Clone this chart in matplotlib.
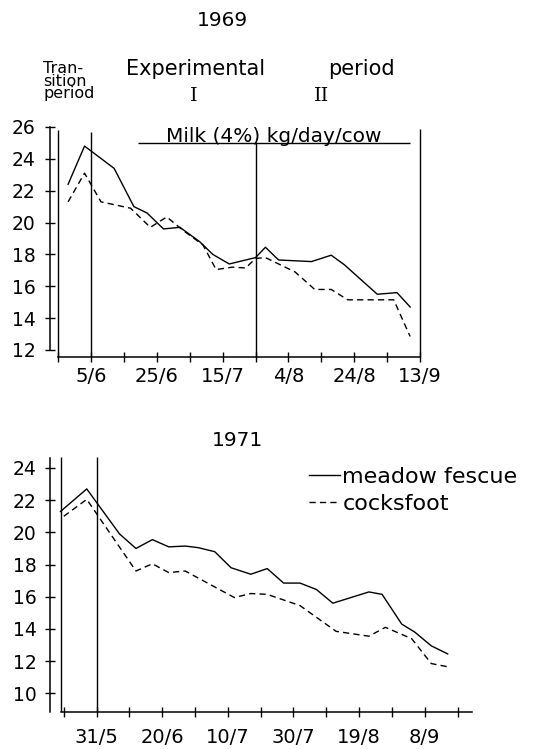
import matplotlib
matplotlib.use("Agg")
import matplotlib.pyplot as plt
import pandas as pd

# milk yield (4% fat corrected), kg/day/cow
dates69_fescue = ["29/5", "3/6", "12/6", "18/6", "22/6", "27/6", "2/7", "8/7", "12/7", "17/7",
                  "25/7", "28/7", "1/8", "11/8", "17/8", "21/8", "31/8", "6/9", "10/9"]
milk69_fescue = [22.4, 24.8, 23.4, 21.0, 20.6, 19.6, 19.7, 18.8, 18.0, 17.4,
                 17.8, 18.45, 17.65, 17.55, 17.95, 17.35, 15.5, 15.6, 14.7]
dates69_cocksfoot = ["29/5", "3/6", "8/6", "17/6", "23/6", "28/6", "3/7", "9/7", "13/7", "18/7",
                     "22/7", "25/7", "28/7", "6/8", "12/8", "17/8", "22/8", "5/9", "10/9"]
milk69_cocksfoot = [21.3, 23.1, 21.3, 20.9, 19.7, 20.35, 19.5, 18.6, 17.05, 17.2,
                    17.15, 17.75, 17.8, 16.9, 15.8, 15.8, 15.15, 15.15, 12.85]

dates71_fescue = ["20/5", "28/5", "7/6", "12/6", "17/6", "22/6", "27/6", "1/7", "6/7", "11/7", "17/7",
                  "22/7", "27/7", "1/8", "6/8", "11/8", "22/8", "26/8", "1/9", "5/9", "10/9", "15/9"]
milk71_fescue = [21.3, 22.7, 19.9, 19.0, 19.55, 19.1, 19.15, 19.05, 18.8, 17.8, 17.4,
                 17.75, 16.85, 16.85, 16.45, 15.6, 16.3, 16.15, 14.3, 13.8, 12.95, 12.45]
dates71_cocksfoot = ["21/5", "28/5", "12/6", "17/6", "22/6", "27/6", "12/7", "17/7", "22/7",
                     "1/8", "12/8", "22/8", "27/8", "4/9", "10/9", "15/9"]
milk71_cocksfoot = [21.0, 22.05, 17.6, 18.05, 17.5, 17.6, 15.95, 16.2, 16.15,
                    15.45, 13.85, 13.55, 14.1, 13.4, 11.85, 11.65]

# period boundaries
periods69 = ["26/5", "5/6", "25/7", "13/9"]
periods69_top = [25.8, 25.7, 25.0, 25.9]
periods71 = ["20/5", "31/5"]
periods71_top = [24.7, 24.7]

ticks69 = ["5/6", "25/6", "15/7", "4/8", "24/8", "13/9"]
ticks71 = ["31/5", "20/6", "10/7", "30/7", "19/8", "8/9"]


def doy(d, year):
    return pd.to_datetime(f"{d}/{year}", format="%d/%m/%Y").dayofyear


def days(lst, year):
    return [doy(d, year) for d in lst]


W, H = 554, 749
plt.rcParams['font.family'] = ['DejaVu Sans']
fig = plt.figure(figsize=(W / 100, H / 100), dpi=100)

solid = dict(color="black", lw=1.0)
dashed = dict(color="black", lw=1.0, dashes=(4.5, 3))


def style(ax, year, ticks, yticks, ylim, xbounds, ybounds, xpad, ypad):
    ax.spines["top"].set_visible(False)
    ax.spines["right"].set_visible(False)
    for s in ("left", "bottom"):
        ax.spines[s].set_linewidth(1.1)
    ax.spines["bottom"].set_bounds(*xbounds)
    ax.spines["left"].set_bounds(*ybounds)
    major = days(ticks, year)
    ax.set_xticks(major)
    ax.set_xticklabels(ticks, fontsize=14)
    minor = [m + 10 for m in major] + [major[0] - 10]
    ax.set_xticks([m for m in minor if xbounds[0] - 1 <= m <= xbounds[1] + 1], minor=True)
    ax.set_yticks(yticks)
    ax.set_yticklabels([str(v) for v in yticks], fontsize=13.5)
    ax.set_ylim(*ylim)
    ax.tick_params(axis="both", which="both", direction="inout", length=7, width=1)
    ax.tick_params(axis="x", pad=xpad)
    ax.tick_params(axis="y", pad=ypad)


# ---- 1969 ----
ax1 = fig.add_axes([50 / W, 1 - 357 / H, 373.3 / W, 238 / H])
x0 = doy("5/6", 1969)
ax1.set_xlim(x0 - 12.5, x0 + 101)
ax1.plot(days(dates69_fescue, 1969), milk69_fescue, **solid)
ax1.plot(days(dates69_cocksfoot, 1969), milk69_cocksfoot, **dashed)
ax1.vlines(days(periods69, 1969), 11.56, periods69_top, color="black", lw=1.0)
ax1.hlines(25.0, x0 + 14.3, x0 + 97, color="black", lw=1.0)
ax1.text(x0 + 55.5, 25.08, "Milk (4%) kg/day/cow", fontsize=14.5, ha="center", va="baseline")
style(ax1, 1969, ticks69, list(range(12, 27, 2)), (11.56, 26.5),
      (doy("26/5", 1969), doy("13/9", 1969)), (12, 26), 4, 7)

fig.text(222 / W, 1 - 20 / H, "1969", fontsize=14.5, ha="center", va="center")
fig.text(43 / W, 1 - 61 / H, "Tran-\nsition\nperiod", fontsize=11.5, ha="left", va="top",
         linespacing=0.8)
fig.text(196 / W, 1 - 69 / H, "Experimental", fontsize=15, ha="center", va="center")
fig.text(361 / W, 1 - 69 / H, "period", fontsize=15, ha="center", va="center")
fig.text(194 / W, 1 - 96 / H, "I", fontsize=14, ha="center", va="center", family="DejaVu Serif")
fig.text(322 / W, 1 - 96 / H, "II", fontsize=14, ha="center", va="center", family="DejaVu Serif")

# ---- 1971 ----
ax2 = fig.add_axes([50 / W, 1 - 712 / H, 422.3 / W, 260.1 / H])
x1 = doy("31/5", 1971)
ax2.set_xlim(x1 - 14.2, x1 + 114.5)
ax2.plot(days(dates71_fescue, 1971), milk71_fescue, label="meadow fescue", **solid)
ax2.plot(days(dates71_cocksfoot, 1971), milk71_cocksfoot, label="cocksfoot", **dashed)
ax2.vlines(days(periods71, 1971), 8.84, periods71_top, color="black", lw=1.0)
style(ax2, 1971, ticks71, list(range(10, 25, 2)), (8.84, 25.0),
      (doy("20/5", 1971), x1 + 114.5), (8.84, 24.6), 8, 6)

fig.text(237 / W, 1 - 441 / H, "1971", fontsize=14.5, ha="center", va="center")
fig.legend(loc="upper left", bbox_to_anchor=(309 / W, 1 - 467 / H), frameon=False,
           fontsize=16, handlelength=1.4, handletextpad=0.1, labelspacing=0.3,
           borderpad=0, borderaxespad=0)

fig.savefig("out.png", dpi=100, facecolor="white")
